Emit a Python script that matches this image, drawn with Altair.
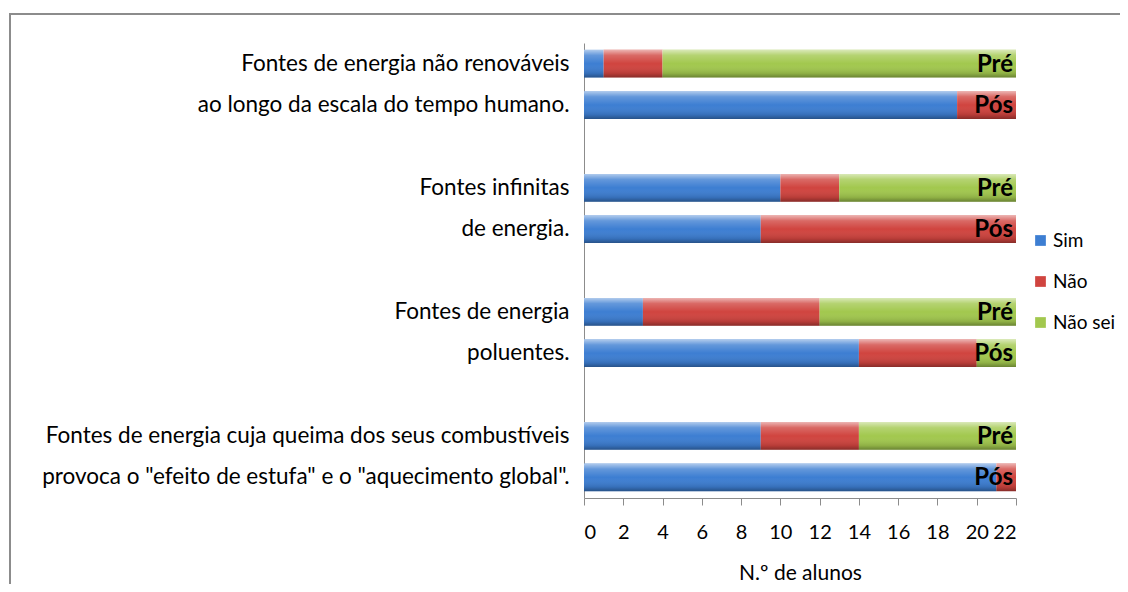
import altair as alt
import pandas as pd

line1 = ["Fontes de energia não renováveis", "Fontes infinitas",
         "Fontes de energia", "Fontes de energia cuja queima dos seus combustíveis"]
line2 = ["ao longo da escala do tempo humano.", "de energia.", "poluentes.",
         "provoca o \"efeito de estufa\" e o \"aquecimento global\"."]
gaps = [" ", "  ", "   "]
periods = ["Pré", "Pós"]
answers = ["Sim", "Não", "Não sei"]
pre_sim = [1, 10, 3, 9]
pre_nao = [3, 3, 9, 5]
pre_ns = [18, 9, 10, 8]
pos_sim = [19, 9, 14, 21]
pos_nao = [3, 13, 6, 1]
pos_ns = [0, 0, 2, 0]
x_ticks = list(range(0, 23, 2))
colors = ["#3D7ED2", "#D0443F", "#A2C84E"]
FONT = "Lato"

domain = []
for i in range(4):
    domain += [line1[i], line2[i]]
    if i < 3:
        domain.append(gaps[i])

records, totals = [], []
for i in range(4):
    for row, period, vals in [
        (line1[i], periods[0], (pre_sim[i], pre_nao[i], pre_ns[i])),
        (line2[i], periods[1], (pos_sim[i], pos_nao[i], pos_ns[i])),
    ]:
        for k, (ans, v) in enumerate(zip(answers, vals)):
            records.append(dict(row=row, period=period, answer=ans, order=k, value=v))
        totals.append(dict(row=row, period=period, total=sum(vals)))
df = pd.DataFrame(records)
tot = pd.DataFrame(totals)

yaxis = alt.Axis(title=None, ticks=False, labelFontSize=22.5, labelPadding=15,
                 labelColor="black", domainColor="#8c8c8c", labelLimit=700,
                 labelFont=FONT)
yscale = alt.Scale(domain=domain, paddingInner=0.33, paddingOuter=0.165)
xscale = alt.Scale(domain=[0, 22], nice=False)
xaxis = alt.Axis(values=x_ticks, title="N.º de alunos", grid=False,
                 labelFontSize=20, labelColor="black", labelPadding=17,
                 tickColor="#8c8c8c", tickSize=7, domainColor="#8c8c8c",
                 titleFontSize=21, titleFontWeight="normal", titleColor="black",
                 titlePadding=20, labelFont=FONT, titleFont=FONT)

bars = alt.Chart(df).mark_bar().encode(
    x=alt.X("value:Q", stack="zero", scale=xscale, axis=xaxis),
    y=alt.Y("row:N", scale=yscale, axis=yaxis),
    color=alt.Color("answer:N", scale=alt.Scale(domain=answers, range=colors),
                    legend=alt.Legend(title=None, orient="none", legendX=447, legendY=188,
                                      symbolType="square", symbolSize=115,
                                      symbolStrokeWidth=0, labelFontSize=19,
                                      labelFont=FONT, labelColor="black", rowPadding=21,
                                      labelOffset=3)),
    order=alt.Order("order:Q"),
)

shade = alt.Chart(tot).mark_bar(fill={
    "gradient": "linear", "x1": 0, "y1": 0, "x2": 0, "y2": 1,
    "stops": [
        {"offset": 0, "color": "rgba(255,255,255,0.6)"},
        {"offset": 0.2, "color": "rgba(255,255,255,0.2)"},
        {"offset": 0.5, "color": "rgba(255,255,255,0)"},
        {"offset": 0.85, "color": "rgba(0,0,0,0.12)"},
        {"offset": 1, "color": "rgba(0,0,0,0.35)"},
    ]}).encode(
    x=alt.X("total:Q", scale=xscale, axis=xaxis),
    y=alt.Y("row:N", scale=yscale, axis=yaxis),
)

labels = alt.Chart(tot).mark_text(align="right", baseline="middle", dx=-3, dy=1,
                                  fontSize=24, fontWeight="bold", font=FONT,
                                  color="black").encode(
    x=alt.X("total:Q", scale=xscale, axis=xaxis),
    y=alt.Y("row:N", scale=yscale, axis=yaxis),
    text="period:N",
)

frame = alt.Chart(pd.DataFrame({"k": [0]})).mark_rect(
    fillOpacity=0, stroke="#8c8c8c", strokeWidth=2).encode(
    x=alt.value(-574), x2=alt.value(600), y=alt.value(-29), y2=alt.value(600))

chart = alt.layer(bars, shade, labels, frame).properties(
    width=432, height=455,
    autosize=alt.AutoSizeParams(type="none"),
    padding={"left": 576, "top": 35, "right": 104, "bottom": 86},
).configure(font=FONT).configure_view(stroke=None)

chart.save("out.html", embed_options={"renderer": "svg", "actions": False})
